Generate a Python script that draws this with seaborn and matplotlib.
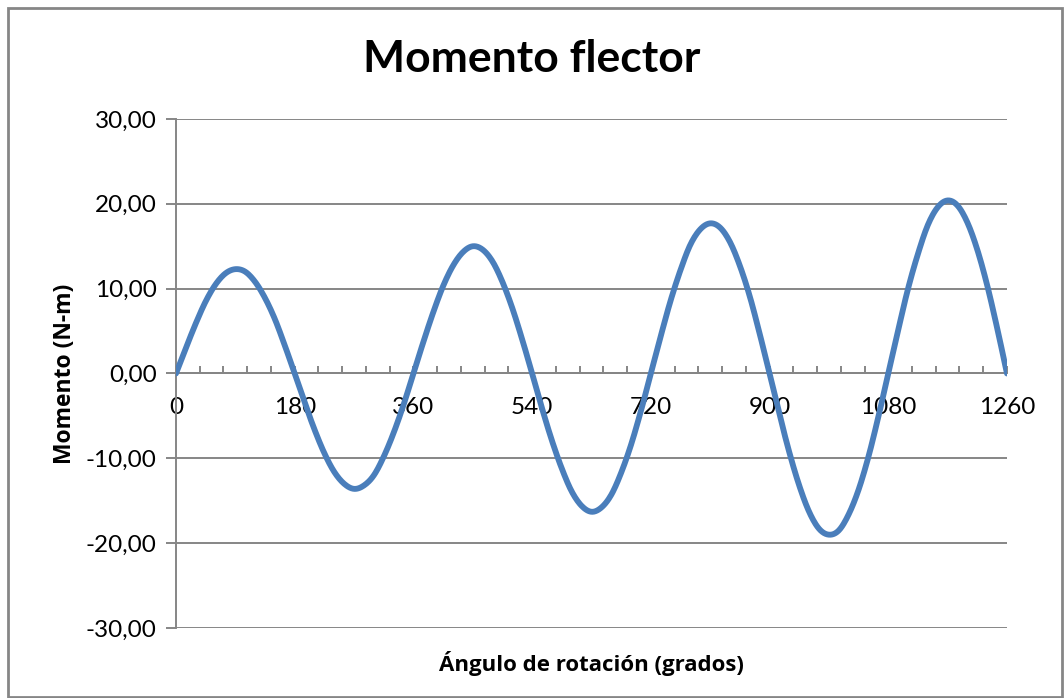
import numpy as np
import pandas as pd
import seaborn as sns
import matplotlib.pyplot as plt
from matplotlib.patches import Rectangle
from matplotlib.ticker import MultipleLocator, FuncFormatter

# angulo de rotacion (grados) y momento flector (N-m)
angulo = list(range(0, 1261, 15))
momento = [
    0.0, 3.0, 5.9, 8.5, 10.5, 11.8, 12.3, 12.0, 10.8, 8.9, 6.4, 3.3,
    0.0, -3.4, -6.6, -9.4, -11.6, -13.0, -13.6, -13.2, -12.0, -9.8, -7.0, -3.7,
    0.0, 3.7, 7.2, 10.3, 12.7, 14.3, 15.0, 14.6, 13.2, 10.8, 7.7, 4.0,
    0.0, -4.1, -7.9, -11.2, -13.9, -15.6, -16.3, -15.8, -14.3, -11.7, -8.4, -4.4,
    0.0, 4.4, 8.6, 12.2, 15.2, 17.0, 17.7, 17.2, 15.5, 12.7, 9.1, 4.7,
    0.0, -4.8, -9.3, -13.2, -16.3, -18.3, -19.0, -18.5, -16.6, -13.7, -9.8, -5.1,
    0.0, 5.1, 10.0, 14.1, 17.5, 19.6, 20.4, 19.8, 17.8, 14.6, 10.4, 5.4,
    0.0,
]
xticks = list(range(0, 1261, 180))
yticks = [-30, -20, -10, 0, 10, 20, 30]


# linea suavizada tipo Excel (Catmull-Rom entre los puntos)
def suavizar(x, y, n=12):
    x = np.asarray(x, float)
    y = np.asarray(y, float)
    px = np.concatenate([[2 * x[0] - x[1]], x, [2 * x[-1] - x[-2]]])
    py = np.concatenate([[2 * y[0] - y[1]], y, [2 * y[-1] - y[-2]]])
    xs, ys = [], []
    t = np.linspace(0, 1, n, endpoint=False)
    for i in range(1, len(px) - 2):
        for p, out in ((px, xs), (py, ys)):
            p0, p1, p2, p3 = p[i - 1], p[i], p[i + 1], p[i + 2]
            out.extend(0.5 * (2 * p1 + (p2 - p0) * t
                              + (2 * p0 - 5 * p1 + 4 * p2 - p3) * t ** 2
                              + (3 * p1 - p0 - 3 * p2 + p3) * t ** 3))
    xs.append(x[-1])
    ys.append(y[-1])
    return np.array(xs), np.array(ys)


xs, ys = suavizar(angulo, momento)
df = pd.DataFrame({'angulo': xs, 'momento': ys})

sns.set_style('white')
plt.rcParams['font.family'] = ['Lato', 'DejaVu Sans']
plt.rcParams['text.color'] = 'black'
plt.rcParams['axes.labelcolor'] = 'black'
plt.rcParams['xtick.color'] = 'black'
plt.rcParams['ytick.color'] = 'black'

fig = plt.figure(figsize=(10.64, 6.98), dpi=100)
ax = fig.add_axes([0.1654, 0.1003, 0.7810, 0.7292])

grey = '#868686'
sns.lineplot(data=df, x='angulo', y='momento', color='#4A7EBB', linewidth=4.2,
             ax=ax, solid_capstyle='round', solid_joinstyle='round', zorder=3,
             sort=False)

ax.set_xlim(0, 1260)
ax.set_ylim(-30, 30)
ax.set_yticks(yticks)
ax.yaxis.set_major_formatter(FuncFormatter(lambda v, p: f'{v:.2f}'.replace('.', ',')))
ax.set_xticks(xticks)
ax.xaxis.set_minor_locator(MultipleLocator(36))

ax.grid(axis='y', color=grey, linewidth=1.4)
ax.grid(axis='x', visible=False)
for s in ['top', 'right']:
    ax.spines[s].set_visible(False)
ax.spines['bottom'].set_position(('data', 0))
ax.spines['bottom'].set_color(grey)
ax.spines['left'].set_color(grey)
ax.spines['bottom'].set_linewidth(1.4)
ax.spines['left'].set_linewidth(1.4)

ax.tick_params(axis='y', direction='out', length=7, width=1.4, color=grey,
               labelsize=17.5, pad=7, left=True)
ax.tick_params(axis='x', which='both', direction='in', length=5, width=1.4,
               color=grey, labelsize=17.5, pad=17, bottom=True)

lab = dict(family=['Open Sans', 'DejaVu Sans'], fontweight='bold')
ax.set_xlabel('Ángulo de rotación (grados)', fontsize=16, **lab)
ax.xaxis.set_label_coords(0.5, -0.045)
ax.set_ylabel('Momento (N-m)', fontsize=16.5, labelpad=6, **lab)
fig.text(0.5, 0.916, 'Momento flector', ha='center', va='center',
         fontsize=32, fontweight='bold')

fig.patches.append(Rectangle((8 / 1064, 1 / 698), 1054 / 1064, 689 / 698,
                             transform=fig.transFigure, fill=False,
                             edgecolor=grey, linewidth=2))

fig.savefig('out.png', dpi=100)
